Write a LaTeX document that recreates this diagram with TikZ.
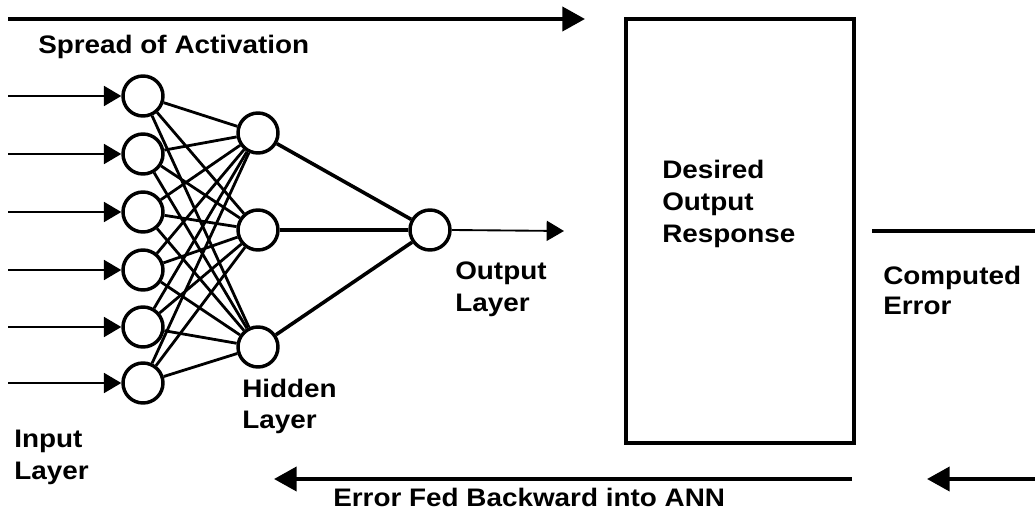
\documentclass[tikz,border=0pt]{standalone}
\usepackage{fontspec}
\setmainfont{Liberation Sans}
\newfontfamily\lblfont[FakeStretch=1.1]{Liberation Sans}
\usetikzlibrary{arrows.meta}
\tikzset{
  neuron/.style={circle,draw,line width=2.6pt,minimum size=30pt,inner sep=0pt},
  link/.style={line width=2.1pt},
  hlink/.style={line width=2.7pt},
  inarrow/.style={line width=1.4pt,-{Triangle[length=13pt,width=15pt]}},
  bigarrow/.style={line width=3pt,-{Triangle[length=17pt,width=18pt]}},
  lbl/.style={anchor=base west,inner sep=0pt,font=\lblfont\bfseries\fontsize{19}{23}\selectfont},
}
\begin{document}
\begin{tikzpicture}[x=0.75pt,y=-0.75pt]
\useasboundingbox (0,0) rectangle (1035,520);
% input layer
\foreach \i/\y in {1/96,2/154,3/212,4/270,5/327,6/383}{
  \node[neuron] (i\i) at (143,\y) {};
  \coordinate (s\i) at (8,\y);
  \draw[inarrow] (s\i) -- (i\i.west);
}
% hidden layer
\foreach \j/\y in {1/133,2/230,3/347}{
  \node[neuron] (h\j) at (258,\y) {};
}
\foreach \i in {1,...,6}{
  \foreach \j in {1,2,3}{
    \draw[link] (i\i) -- (h\j);
  }
}
% output
\node[neuron] (o) at (430,230) {};
\foreach \j in {1,2,3}{ \draw[hlink] (h\j) -- (o); }
\coordinate (oend) at (564,231);
\draw[inarrow] (o.east) -- (oend);
% top arrow
\coordinate (ta) at (8,19);
\coordinate (tb) at (585,19);
\draw[bigarrow] (ta) -- (tb);
% box
\node[draw,line width=3pt,inner sep=0pt,anchor=north west,minimum width=171pt,minimum height=318pt] (box) at (624,17) {};
\node[lbl] (des1) at (662,179) {Desired};
\node[lbl] (des2) at (662,211) {Output};
\node[lbl] (des3) at (662,243) {Response};
% right line
\coordinate (ra) at (872,231);
\coordinate (rb) at (1035,231);
\draw[line width=2.6pt] (ra) -- (rb);
% bottom arrows
\coordinate (ba) at (852,479);
\coordinate (bb) at (274,479);
\draw[bigarrow] (ba) -- (bb);
\coordinate (ca) at (1035,479);
\coordinate (cb) at (927,479);
\draw[bigarrow] (ca) -- (cb);
% labels
\node[lbl] (spread) at (38,54) {Spread of Activation};
\node[lbl] (out1) at (455,280) {Output};
\node[lbl] (out2) at (455,311) {Layer};
\node[lbl] (hid1) at (242,397) {Hidden};
\node[lbl] (hid2) at (242,428) {Layer};
\node[lbl] (in1) at (14,447) {Input};
\node[lbl] (in2) at (14,479) {Layer};
\node[lbl] (comp1) at (883,285) {Computed};
\node[lbl] (comp2) at (883,315) {Error};
\node[lbl] (err) at (333,506) {Error Fed Backward into ANN};
\end{tikzpicture}
\end{document}
